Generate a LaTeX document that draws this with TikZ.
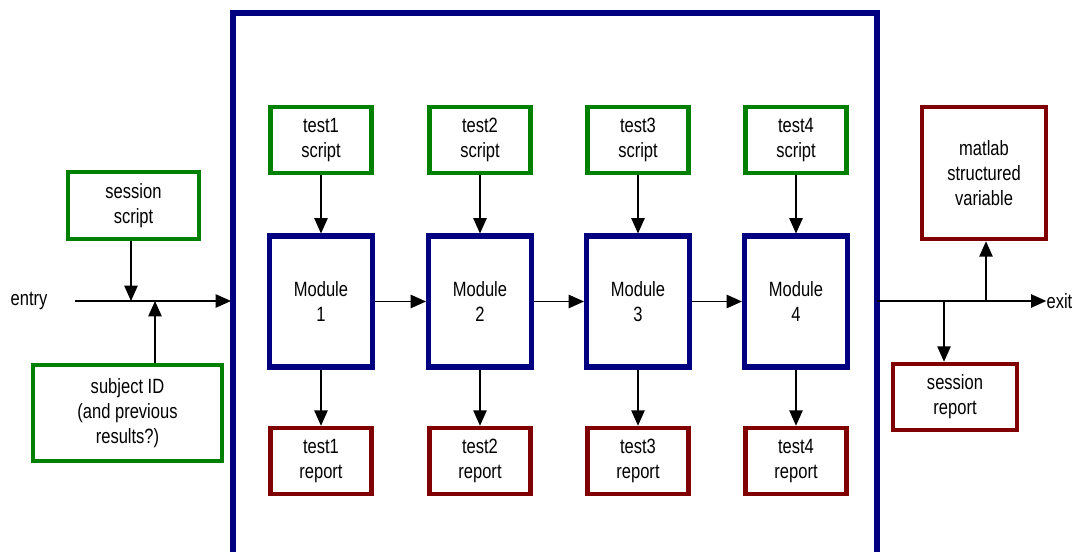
\documentclass[tikz,border=0pt]{standalone}
\usepackage{fontspec}
\setmainfont{Liberation Sans}[FakeStretch=0.8]
\usetikzlibrary{arrows.meta}
\definecolor{scriptgreen}{RGB}{0,128,0}
\definecolor{modblue}{RGB}{0,0,128}
\definecolor{repred}{RGB}{128,0,0}

\begin{document}
\begin{tikzpicture}[x=0.75pt,y=-0.75pt,
  every node/.style={font=\fontsize{15.5}{18.75}\selectfont, align=center, inner sep=0pt},
  box/.style={draw, line width=3.4pt, minimum width=75.75pt, minimum height=49.5pt},
  script/.style={box, draw=scriptgreen},
  report/.style={box, draw=repred},
  module/.style={box, draw=modblue, line width=4pt, minimum width=77pt, minimum height=98pt},
  flow/.style={line width=1.1pt, -{Triangle[length=11.5pt,width=10pt]}}]
\useasboundingbox (0,0) rectangle (1077,552);
% outer frame:
\draw[modblue, line width=4.5pt] (233,13) rectangle (877,570);
% entry side:
\node (entry) at (29,301) {entry};
\coordinate (in) at (75,301);
\coordinate (fin) at (231,301);
\coordinate (j1) at (131,301);
\coordinate (j2) at (155,301);
\node[script, minimum width=98pt, minimum height=50pt] (sess) at (133.5,205.5) {session\\script};
\node[script, minimum width=142pt, minimum height=72pt] (subj) at (127.5,413) {subject ID\\(and previous\\results?)};
\draw[flow] (in) -- (fin);
\draw[flow] (sess.south -| j1) -- (j1);
\draw[flow] (subj.north -| j2) -- (j2);
% modules:
\foreach \i/\x in {1/321,2/480,3/638,4/796} {
  \node[script] (s\i) at (\x,140) {test\i\\script};
  \node[module] (m\i) at (\x,301.5) {Module\\\i};
  \node[report] (r\i) at (\x,461) {test\i\\report};
  \draw[flow] (s\i) -- (m\i);
  \draw[flow] (m\i) -- (r\i);
}
\foreach \i/\j in {1/2,2/3,3/4} \draw[flow] (m\i) -- (m\j);
% exit side:
\coordinate (fout) at (877,301);
\coordinate (j3) at (986,301);
\coordinate (j4) at (944,301);
\node[anchor=west, xshift=4] (exit) at (1041,301) {exit};
\node[report, minimum width=93pt, minimum height=99pt] (mat) at (984,173) {matlab\\structured\\variable};
\node[report, minimum width=93pt] (srep) at (955,397) {session\\report};
\draw[flow] (fout) -- (exit.west);
\draw[flow] (j3) -- (j3 |- mat.south);
\draw[flow] (j4) -- (j4 |- srep.north);
\end{tikzpicture}
\end{document}
